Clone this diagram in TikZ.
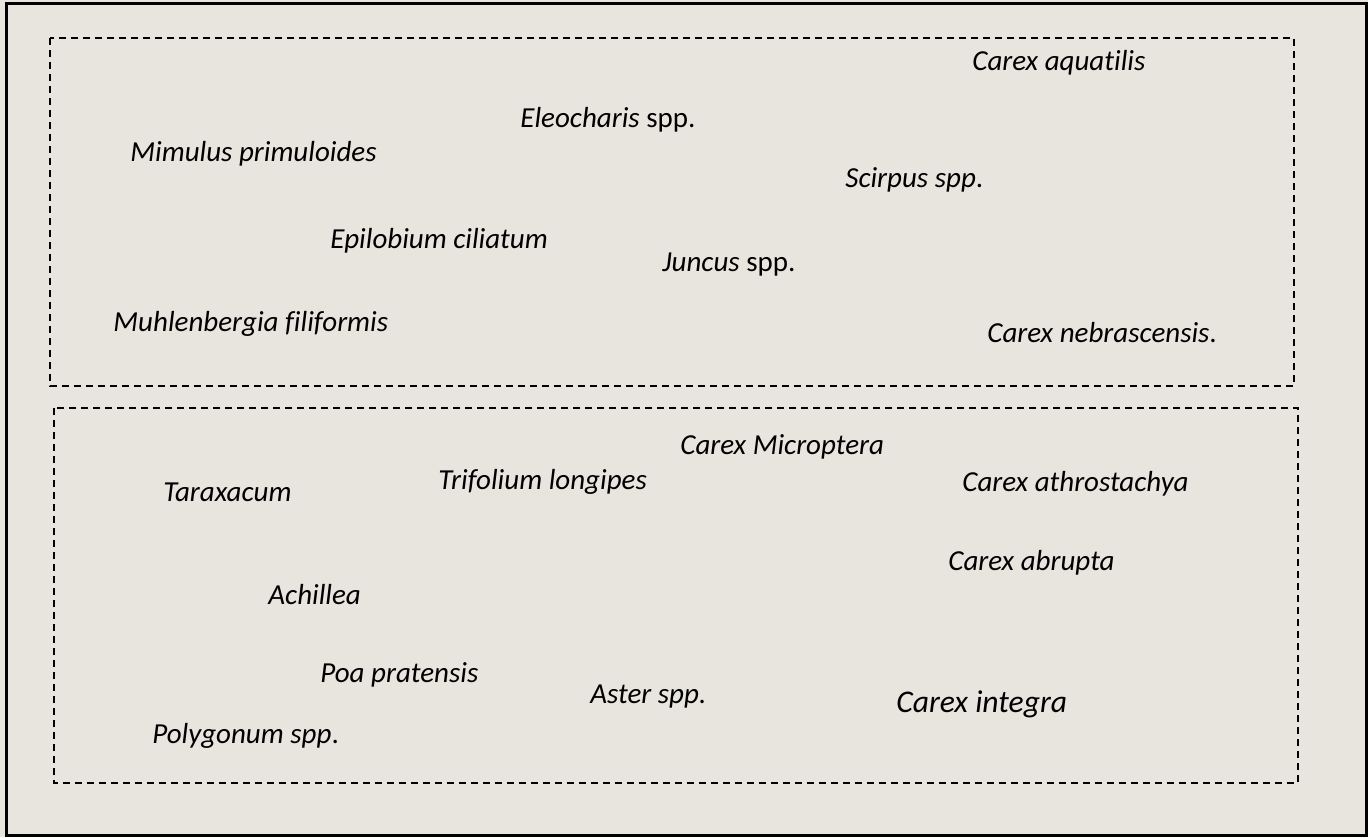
\documentclass[tikz,border=0pt]{standalone}
\usepackage{fontspec}
\setmainfont[Ligatures=NoCommon]{Carlito}
\usepackage{tikz}
\definecolor{bgbeige}{RGB}{232,228,222}
\tikzstyle{species} = [anchor=base west, inner sep=0pt,
font=\fontsize{14.5}{17}\selectfont\itshape]
\tikzstyle{bigspecies} = [species, font=\fontsize{15.8}{18}\selectfont\itshape]
\tikzstyle{groupbox} = [draw=black, line width=0.9pt,
dash pattern=on 3.5pt off 2.5pt]

\begin{document}
\begin{tikzpicture}[x=0.5pt,y=-0.5pt]
        \fill [bgbeige] (0,0) rectangle (1368,837);
        \useasboundingbox (0,0) rectangle (1368,837);
        \draw [line width=1.5pt] (6,3) rectangle (1366,835);
        % wet group
        \draw [groupbox] (50,38) rectangle (1294,386);
        \node (caqu) [species] at (972,70) {Carex aquatilis};
        \node (eleo) [species] at (520,127) {Eleocharis \upshape spp.};
        \node (mimu) [species] at (130,161) {Mimulus primuloides};
        \node (scir) [species] at (845,187) {Scirpus spp\upshape .};
        \node (epil) [species] at (330,248) {Epilobium ciliatum};
        \node (junc) [species] at (662,271) {Juncus \upshape spp.};
        \node (muhl) [species] at (113,331) {Muhlenbergia filiformis};
        \node (cneb) [species] at (987,342) {Carex nebrascensis\upshape .};
        % dry group
        \draw [groupbox] (54,408) rectangle (1298,783);
        \node (cmic) [species] at (680,454) {Carex Microptera};
        \node (tara) [species] at (163,501) {Taraxacum};
        \node (trif) [species] at (438,489) {Trifolium longipes};
        \node (cath) [species] at (962,491) {Carex athrostachya};
        \node (cabr) [species] at (948,570) {Carex abrupta};
        \node (achi) [species] at (268,604) {Achillea};
        \node (poa) [species] at (320,682) {Poa pratensis};
        \node (aste) [species] at (590,703) {Aster spp.};
        \node (cint) [bigspecies] at (896,712) {Carex integra};
        \node (poly) [species] at (152,743) {Polygonum spp\upshape .};
    \end{tikzpicture}
\end{document}
